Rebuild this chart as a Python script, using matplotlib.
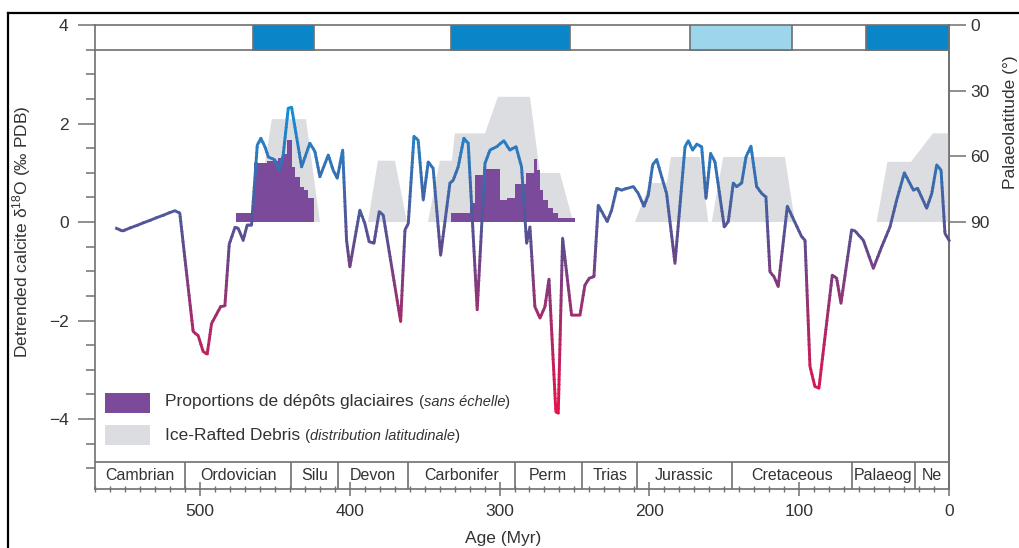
import numpy as np
import matplotlib.pyplot as plt
from matplotlib.colors import LinearSegmentedColormap, Normalize
from matplotlib.patches import Rectangle
from matplotlib.lines import Line2D
from matplotlib.ticker import MultipleLocator
from matplotlib.offsetbox import TextArea, HPacker, AnchoredOffsetbox

plt.rcParams['font.family'] = ['Liberation Sans', 'DejaVu Sans']
plt.rcParams['mathtext.fontset'] = 'custom'
plt.rcParams['mathtext.rm'] = 'Liberation Sans'
plt.rcParams['mathtext.it'] = 'Liberation Sans:italic'

# detrended calcite d18O curve
age = [555.6, 551.6, 516.7, 513.4, 504.5, 501.1, 497.8, 495.1, 492.2, 486.2,
       483.3, 480.4, 476.6, 474.4, 471.1, 468.4, 465.5, 461.7, 459.3, 456.6,
       454.3, 449.9, 447.0, 444.4, 441.0, 438.8, 436.6, 432.1, 426.6, 423.2,
       419.9, 414.3, 411.0, 408.3, 404.7, 402.1, 399.9, 393.2, 389.9, 387.0,
       383.8, 380.3, 377.6, 366.0, 363.1, 360.9, 357.1, 354.3, 350.9, 347.6,
       344.3, 339.3, 333.1, 330.9, 327.6, 323.8, 320.9, 314.9, 309.7, 306.4,
       301.9, 297.1, 293.1, 289.0, 285.3, 281.9, 279.7, 276.4, 273.0, 269.7,
       267.0, 262.4, 260.8, 257.9, 251.9, 246.3, 243.0, 240.1, 237.0, 234.1,
       228.1, 225.2, 221.8, 218.5, 210.7, 207.4, 203.6, 200.7, 197.8, 195.1,
       191.8, 188.5, 182.9, 176.2, 174.0, 171.1, 168.4, 165.1, 162.2, 159.1,
       156.2, 150.0, 147.3, 144.0, 141.7, 138.4, 135.5, 132.2, 128.4, 125.0,
       122.2, 119.5, 116.8, 114.0, 107.9, 98.3, 96.1, 92.8, 89.5, 86.8,
       77.9, 75.0, 72.1, 65.0, 62.8, 57.2, 50.5, 44.9, 39.4, 34.9,
       29.8, 23.8, 20.9, 14.9, 11.5, 8.2, 5.3, 2.7, 0.0]
d18o = [-0.13, -0.18, 0.23, 0.18, -2.22, -2.31, -2.63, -2.68, -2.06, -1.72,
        -1.70, -0.45, -0.11, -0.13, -0.37, -0.06, -0.06, 1.56, 1.70, 1.53,
        1.32, 1.26, 1.05, 1.36, 2.31, 2.33, 1.93, 1.12, 1.60, 1.43,
        0.92, 1.36, 1.05, 0.89, 1.46, -0.37, -0.91, 0.24, -0.03, -0.40,
        -0.43, 0.21, 0.14, -2.02, -0.16, -0.03, 1.74, 1.66, 0.45, 1.22,
        1.09, -0.67, 0.79, 0.85, 1.12, 1.70, 1.60, -1.78, 1.19, 1.46,
        1.53, 1.65, 1.46, 1.53, 1.12, -0.43, -0.10, -1.72, -1.95, -1.72,
        -1.16, -3.85, -3.88, -0.33, -1.89, -1.89, -1.28, -1.14, -1.11, 0.34,
        0.01, 0.24, 0.68, 0.65, 0.72, 0.58, 0.32, 0.55, 1.16, 1.27,
        0.92, 0.58, -0.84, 1.53, 1.65, 1.46, 1.58, 1.53, 0.48, 1.39,
        1.22, -0.10, 0.01, 0.79, 0.72, 0.79, 1.32, 1.54, 0.72, 0.58,
        0.51, -1.01, -1.11, -1.31, 0.32, -0.30, -0.37, -2.93, -3.34, -3.37,
        -1.08, -1.14, -1.65, -0.16, -0.18, -0.37, -0.94, -0.50, -0.10, 0.45,
        1.00, 0.65, 0.68, 0.28, 0.58, 1.16, 1.05, -0.23, -0.37]

# glacial deposit proportions (no scale)
glac1_edges = [424.0, 427.9, 430.6, 433.2, 436.6, 438.6, 442.0, 444.6, 448.0, 455.0, 464.0, 476.0]
glac1_vals = [0.48, 0.65, 0.72, 0.92, 1.12, 1.66, 1.38, 1.30, 1.23, 1.19, 0.18]
glac2_edges = [249.7, 261.0, 264.4, 267.7, 271.0, 273.0, 275.0, 277.0, 282.4, 289.7,
               295.0, 299.7, 311.1, 316.4, 319.8, 332.4]
glac2_vals = [0.08, 0.18, 0.28, 0.45, 0.65, 1.05, 1.27, 1.00, 0.78, 0.48,
              0.45, 1.07, 0.95, 0.38, 0.18]

# ice-rafted debris, latitude reached (deg)
ird_ord_age = [462.6, 452.0, 429.2, 419.9]
ird_ord_lat = [90, 43, 43, 90]
ird_dev_age = [387.8, 381.2, 369.8, 361.8]
ird_dev_lat = [90, 62, 62, 90]
ird_carb_age = [347.8, 339.8, 331.8, 329.8, 309.7, 301.1, 279.7, 273.0, 259.7, 250.8]
ird_carb_lat = [90, 62, 62, 49.5, 49.5, 32.8, 32.8, 67.6, 67.6, 90]
ird_jur_age = [209.6, 199.6, 188.3, 185.6, 166.2, 160.7]
ird_jur_lat = [90, 72.2, 72.2, 60.3, 60.3, 90]
ird_cret_age = [158.4, 150.7, 109.5, 102.8]
ird_cret_lat = [90, 60.3, 60.3, 90]
ird_ceno_age = [48.3, 41.1, 25.4, 10.7, 0.0, 0.0]
ird_ceno_lat = [90, 62.5, 62.5, 49.5, 49.5, 90]

# cold intervals on top bar
cold_start = [464.6, 332.4, 172.9, 55.4]
cold_end = [423.9, 253.0, 104.8, 0.0]
cold_color = ['#0a86c8', '#0a86c8', '#9dd5ec', '#0a86c8']

# geological periods
periods = ['Cambrian', 'Ordovician', 'Silu', 'Devon', 'Carbonifer', 'Perm',
           'Trias', 'Jurassic', 'Cretaceous', 'Palaeog', 'Ne']
period_bounds = [570, 510, 439, 408, 361, 290, 245, 208, 145, 65, 23, 0]


def lat_to_val(lat):
    return 4 - np.asarray(lat) / 22.5


grey = '#707070'
txt = '#333333'

fig = plt.figure(figsize=(10.2, 5.48), dpi=100)
ax = fig.add_axes([95 / 1020, 1 - 489 / 548, (949 - 95) / 1020, (489 - 25) / 548])
ax.set_xlim(570, 0)
ax.set_ylim(-5.42, 4)

# IRD
for a, l in [(ird_ord_age, ird_ord_lat), (ird_dev_age, ird_dev_lat),
             (ird_carb_age, ird_carb_lat), (ird_jur_age, ird_jur_lat),
             (ird_cret_age, ird_cret_lat), (ird_ceno_age, ird_ceno_lat)]:
    ax.fill(a, lat_to_val(l), color='#dcdde1', lw=0, zorder=1)

# glacial deposits
ax.stairs(glac1_vals, glac1_edges, baseline=0, fill=True, color='#7b4a9b', zorder=2)
ax.stairs(glac2_vals, glac2_edges, baseline=0, fill=True, color='#7b4a9b', zorder=2)

# curve coloured by value (drawn in horizontal clipped bands)
cmap = LinearSegmentedColormap.from_list(
    'd18o', [(0, '#e8114c'), (0.3, '#a82a6a'), (0.55, '#5f4b8e'),
             (0.75, '#3c6aab'), (1, '#138fd8')])
norm = Normalize(-3.9, 2.35)
bands = np.linspace(-4.1, 2.6, 68)
for lo, hi in zip(bands[:-1], bands[1:]):
    ln, = ax.plot(age, d18o, color=cmap(norm((lo + hi) / 2)), lw=2.1,
                  solid_joinstyle='round', zorder=3)
    ln.set_clip_path(Rectangle((-10, lo), 600, hi - lo + 0.02, transform=ax.transData))

# top bar
ax.axhline(3.5, color=grey, lw=1.2, zorder=4)
for s, e, c in zip(cold_start, cold_end, cold_color):
    ax.add_patch(Rectangle((e, 3.5), s - e, 0.5, facecolor=c, edgecolor=grey,
                           lw=1.2, zorder=4))

# period band
band_top = -4.87
ax.axhline(band_top, color=grey, lw=1.2, zorder=4)
ax.vlines(period_bounds[1:-1], -5.42, band_top, color=grey, lw=1.2, zorder=4)
for name, a, b in zip(periods, period_bounds[:-1], period_bounds[1:]):
    ax.text((a + b) / 2, (band_top - 5.42) / 2, name, ha='center', va='center',
            fontsize=11.5, color=txt)

# axes styling
for s in ax.spines.values():
    s.set_color(grey)
    s.set_linewidth(1.2)
ax.set_yticks([-4, -2, 0, 2, 4])
ax.set_yticklabels(['\u22124', '\u22122', '0', '2', '4'])
ax.yaxis.set_minor_locator(MultipleLocator(0.5))
ax.tick_params(axis='y', which='major', direction='out', length=12, width=1.1,
               color=grey, labelsize=12.5, labelcolor=txt, pad=7)
ax.tick_params(axis='y', which='minor', direction='out', length=6.5, width=1.1, color=grey)
ax.set_xticks([500, 400, 300, 200, 100, 0])
ax.xaxis.set_minor_locator(MultipleLocator(10))
ax.tick_params(axis='x', which='major', direction='inout', length=10, width=1.1,
               color=grey, labelsize=12.5, labelcolor=txt, pad=6)
ax.tick_params(axis='x', which='minor', direction='inout', length=4.5, width=1, color=grey)

sec = ax.secondary_yaxis('right', functions=(lambda v: (4 - v) * 22.5,
                                             lambda l: 4 - l / 22.5))
sec.set_yticks([0, 30, 60, 90])
sec.tick_params(direction='out', length=12.5, width=1.1, color=grey,
                labelsize=12.5, labelcolor=txt, pad=3)
sec.spines['right'].set_color(grey)
sec.spines['right'].set_linewidth(1.2)

# legend
ax.add_patch(Rectangle((0.0117, 0.1638), 0.0527, 0.0431, transform=ax.transAxes,
                       facecolor='#7b4a9b', lw=0, zorder=5))
ax.add_patch(Rectangle((0.0117, 0.0948), 0.0527, 0.0431, transform=ax.transAxes,
                       facecolor='#dcdde1', lw=0, zorder=5))
for y, main, it in [(0.188, 'Proportions de dépôts glaciaires', 'sans échelle'),
                    (0.115, 'Ice-Rafted Debris', 'distribution latitudinale')]:
    row = HPacker(children=[
        TextArea(main + ' ', textprops=dict(fontsize=12.5, color=txt)),
        TextArea('(', textprops=dict(fontsize=11, color=txt)),
        TextArea(it, textprops=dict(fontsize=10.5, color=txt, style='italic')),
        TextArea(')', textprops=dict(fontsize=11, color=txt)),
    ], align='baseline', pad=0, sep=0)
    box = AnchoredOffsetbox(loc='center left', child=row, frameon=False, pad=0,
                            borderpad=0, bbox_to_anchor=(0.082, y),
                            bbox_transform=ax.transAxes)
    ax.add_artist(box)

# axis labels
fig.text(22 / 1020, 1 - 232 / 548, 'Detrended calcite δ$^{18}$O (‰ PDB)',
         rotation=90, ha='center', va='center', fontsize=12.5, color=txt)
fig.text(503 / 1020, 1 - 538 / 548, 'Age (Myr)', ha='center', va='center',
         fontsize=12.5, color=txt)
fig.text(1011 / 1020, 1 - 122 / 548, 'Palaeolatitude (°)', rotation=90,
         ha='center', va='center', fontsize=12.5, color=txt)

# outer frame
fig.add_artist(Line2D([8 / 1020, 8 / 1020], [0, 1 - 13 / 548], color='black', lw=1.6))
fig.add_artist(Line2D([8 / 1020, 1], [1 - 13 / 548, 1 - 13 / 548], color='black', lw=1.6))

fig.savefig('out.png', dpi=100)
